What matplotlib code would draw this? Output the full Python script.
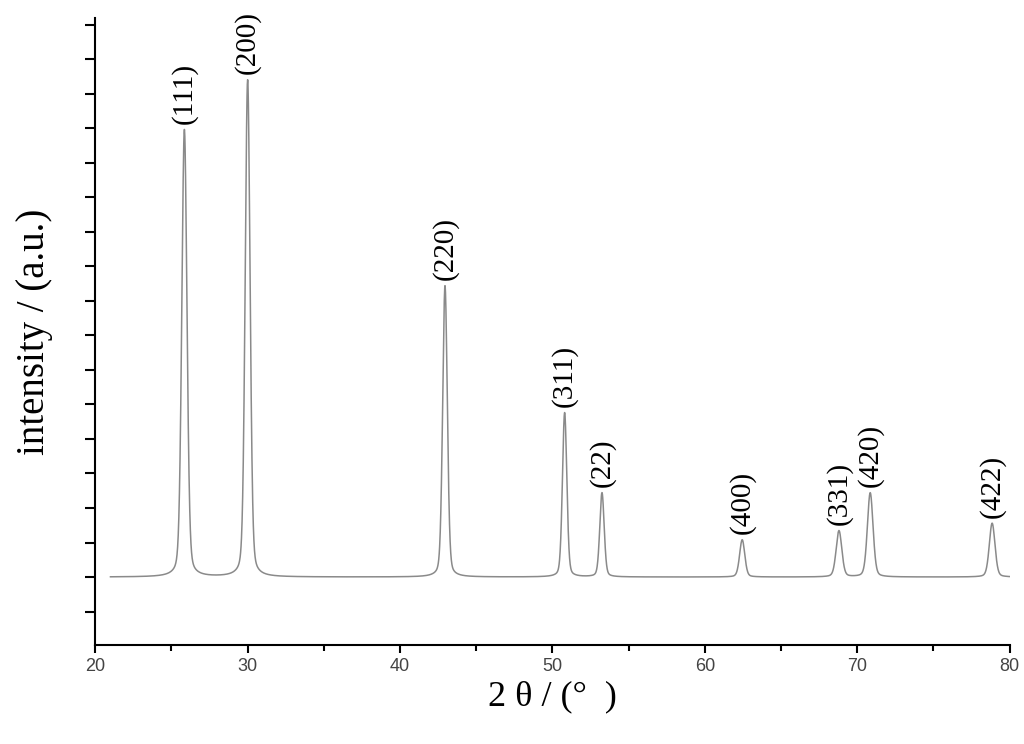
import numpy as np
import matplotlib.pyplot as plt
from matplotlib.ticker import MultipleLocator, NullFormatter

# peaks: position (2theta), height (a.u.), half-width, hkl label
pos = [25.85, 30.0, 42.95, 50.8, 53.25, 62.45, 68.8, 70.85, 78.85]
alt = [6.48, 7.2, 4.22, 2.38, 1.22, 0.54, 0.67, 1.22, 0.78]
hw = [0.2, 0.19, 0.18, 0.17, 0.17, 0.2, 0.22, 0.22, 0.22]
hkl = ['(111)', '(200)', '(220)', '(311)', '(22)', '(400)', '(331)', '(420)', '(422)']

x = np.linspace(21, 80, 6000)
y = np.zeros_like(x)
for p, h, w in zip(pos, alt, hw):
    d = (x - p) / w
    y += h * (0.25 / (1 + d ** 2) + 0.75 * np.exp(-np.log(2) * d ** 2))

fig = plt.figure(figsize=(10.24, 7.44), dpi=100)
ax = fig.add_axes([0.093, 0.133, 0.893, 0.843])
ax.plot(x, y, color='#8a8a8a', lw=1.1)

for p, h, t in zip(pos, alt, hkl):
    ax.text(p, h + 0.08, t, rotation=90, ha='center', va='bottom',
            family='Liberation Serif', fontsize=21)

ax.set_xlim(20, 80)
ax.set_ylim(-0.985, 8.1)
ax.spines['top'].set_visible(False)
ax.spines['right'].set_visible(False)
for s in ['left', 'bottom']:
    ax.spines[s].set_linewidth(1.5)
ax.xaxis.set_major_locator(MultipleLocator(10))
ax.xaxis.set_minor_locator(MultipleLocator(5))
ax.yaxis.set_major_locator(MultipleLocator(1))
ax.yaxis.set_minor_locator(MultipleLocator(0.5))
ax.yaxis.set_major_formatter(NullFormatter())
ax.tick_params(axis='y', which='both', direction='out', length=7, width=1.5)
ax.tick_params(axis='x', which='major', direction='out', length=6, width=1.5,
               labelsize=13, labelcolor='#444444')
ax.tick_params(axis='x', which='minor', direction='out', length=4, width=1.5)
for lb in ax.get_xticklabels():
    lb.set_family('Liberation Sans')

ax.set_xlabel('2 θ / (°  )', family='Liberation Serif', fontsize=26, labelpad=4)
ax.set_ylabel('intensity / (a.u.)', family='Liberation Serif', fontsize=28, labelpad=20)

fig.savefig('out.png', dpi=100)
